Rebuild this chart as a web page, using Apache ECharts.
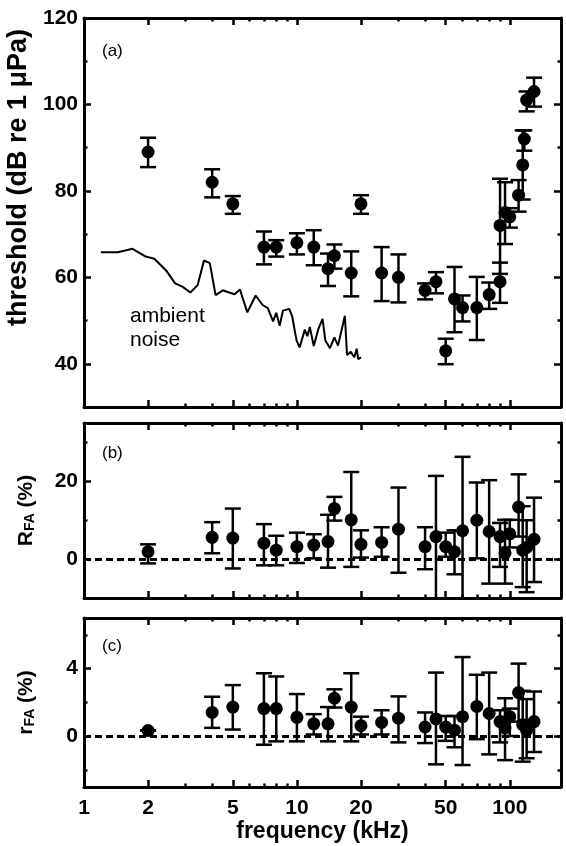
<!DOCTYPE html>
<html><head><meta charset="utf-8">
<script src="https://cdn.jsdelivr.net/npm/echarts@6/dist/echarts.min.js"></script>
<style>html,body{margin:0;padding:0;background:#fff}#c{width:566px;height:846px}</style>
</head><body><div id="c"></div>
<script>
// ---------- data ----------
const freqTickMajor = [2, 5, 10, 20, 50, 100];
const freqTickMinor = [3, 4, 6, 7, 8, 9, 30, 40, 60, 70, 80, 90];
const freqLabels = [1, 2, 5, 10, 20, 50, 100];

// panel (a) thresholds
const freqA = [2, 4, 5, 7, 8, 10, 12, 14, 15, 18, 20, 25, 30, 40, 45, 50, 55, 60, 70, 80, 90, 90, 95, 100, 110, 115, 117, 120, 130];
const thrA  = [89, 82, 77, 67, 67, 68, 67, 62, 65, 61, 77, 61, 60, 57, 59, 43, 55, 53, 53, 56, 59, 72, 75, 74, 79, 86, 92, 101, 103];
const thrHi = [92.3, 85, 78.8, 70.6, 68.6, 70.2, 70.9, 65.5, 67.6, 66, 79, 67, 65.3, 58.6, 61.2, 45.8, 62.4, 55.8, 60.1, 58.8, 63.4, 82.8, 82, 76, 82.5, 94, 94, 103, 106.2];
const thrLo = [85.5, 78.5, 74.7, 63, 64.8, 65.3, 62.8, 58, 62, 55.6, 74.7, 54.5, 54.2, 54.9, 56.3, 39.9, 47.3, 49.8, 45.5, 52.7, 54.1, 60.8, 67.7, 71.5, 75.2, 78, 89.3, 98.4, 99.5];
const yTicksA = [40, 60, 80, 100, 120];
const yMinorA = [50, 70, 90, 110];

// ambient noise curve (kHz, dB)
const noiseF  = [1.2, 1.44, 1.69, 1.95, 2.14, 2.43, 2.68, 2.91, 3.16, 3.42, 3.66, 3.9, 4.15, 4.49, 4.8, 5.1, 5.4, 5.85, 6.4, 6.9, 7.3, 7.73, 8.0, 8.3, 8.6, 9.2, 9.5, 9.96, 10.3, 10.9, 11.2, 11.5, 12.0, 12.6, 13.2, 13.6, 14.3, 15.0, 15.6, 16.2, 16.8, 17.2, 17.9, 18.6, 19.1, 19.4, 20.0];
const noiseDb = [65.8, 65.8, 66.6, 64.8, 64.3, 61.6, 58.6, 57.8, 56.5, 58.2, 63.9, 63.3, 55.9, 57.0, 56.5, 56.1, 57.2, 51.9, 55.8, 53.6, 52.9, 49.8, 51.8, 48.8, 52.3, 52.7, 51.0, 45.4, 43.8, 47.9, 46.4, 48.5, 44.1, 48.0, 50.4, 45.4, 43.6, 46.1, 44.2, 47.7, 51.1, 42.0, 42.8, 41.5, 43.5, 41.1, 41.5];

// panel (b) R_FA (%)
const freqB = [2, 4, 5, 7, 8, 10, 12, 14, 15, 18, 20, 25, 30, 40, 45, 50, 55, 60, 70, 80, 90, 95, 100, 110, 115, 120, 130];
const rfaB   = [1.9, 5.6, 5.4, 4.1, 2.3, 3.2, 3.6, 4.5, 13, 10.1, 3.8, 4.3, 7.7, 3.2, 5.8, 3.2, 1.9, 7.3, 10, 7.1, 5.8, 1.6, 6.5, 13.4, 2.3, 3.0, 5.1];
const rfaBHi = [3.8, 9.5, 13, 9, 6, 6.8, 6.4, 11.4, 16, 22.4, 7.4, 8.2, 18.4, 8.2, 21.4, 6.8, 7.4, 26.3, 19.7, 20.3, 9.3, 10.1, 10.1, 21.8, 13.6, 10, 15.8];
const rfaBLo = [-1.1, 1.5, -2.4, -1.6, -1.6, -1.0, 0.2, -2.2, 9.9, -2.0, 0.4, 0.6, -3.5, -2.6, -15, 0.6, -3.9, -15, 0.2, -6.3, -2.0, -6.3, 3, 5.8, -7.2, -8.5, -5.9];
const yTicksB = [0, 20];
const yMinorB = [10, 30];

// panel (c) r_FA (%)
const freqC = [2, 4, 5, 7, 8, 10, 12, 14, 15, 18, 20, 25, 30, 40, 45, 50, 55, 60, 70, 80, 90, 95, 100, 110, 115, 120, 130];
const rfaC   = [0.34, 1.41, 1.73, 1.64, 1.64, 1.12, 0.74, 0.74, 2.25, 1.73, 0.63, 0.82, 1.07, 0.55, 1.03, 0.55, 0.36, 1.16, 1.77, 1.35, 0.87, 0.5, 1.16, 2.59, 0.69, 0.36, 0.87];
const rfaCHi = [0.34, 2.34, 3.03, 3.73, 3.54, 2.5, 1.31, 1.73, 2.78, 3.73, 1.16, 1.54, 2.36, 1.41, 3.77, 1.2, 1.2, 4.69, 3.64, 3.77, 1.54, 2.25, 1.64, 4.3, 2.69, 2.2, 2.65];
const rfaCLo = [0.34, 0.5, 0.4, -0.5, -0.3, -0.3, 0.11, -0.3, 1.7, -0.3, 0.11, 0.11, -0.36, -0.4, -1.66, -0.27, -0.65, -1.7, -0.17, -1.07, -0.36, -1.41, 0.02, 0.87, -1.5, -1.3, -0.93];
const yTicksC = [0, 4];
const yMinorC = [-2, 2, 6];

// ---------- chart ----------
const FONT = '"Liberation Sans", Arial, Helvetica, sans-serif';
const TICK_COLOR = '#000';
const XMIN = 1, XMAX = 174;
const zip = (a, b) => a.map((v, i) => [v, b[i]]);
const zip3 = (a, b, c) => a.map((v, i) => [v, b[i], c[i]]);

const panels = [
  { top: 18, height: 389, ymin: 30, ymax: 120, major: yTicksA, minor: yMinorA,
    name: 'threshold (dB re 1 μPa)', nameGap: 47, nameSize: 27, namePad: [0, 0, 0, 70],
    xs: freqA, ys: thrA, hi: thrHi, lo: thrLo, zero: false },
  { top: 423, height: 175, ymin: -10, ymax: 35, major: yTicksB, minor: yMinorB,
    name: '{m|R}{s|FA}{m| (%)}', nameGap: 47, nameSize: 21, namePad: 0,
    xs: freqB, ys: rfaB, hi: rfaBHi, lo: rfaBLo, zero: true },
  { top: 618, height: 169, ymin: -3, ymax: 7, major: yTicksC, minor: yMinorC,
    name: '{m|r}{s|FA}{m| (%)}', nameGap: 47, nameSize: 21, namePad: 0,
    xs: freqC, ys: rfaC, hi: rfaCHi, lo: rfaCLo, zero: true }
];

const grids = [], xAxes = [], yAxes = [], series = [];

function errItem(params, api) {
  const x = api.value(0), hi = api.value(1), lo = api.value(2);
  const a = api.coord([x, hi]), b = api.coord([x, lo]);
  const w = 8, st = { stroke: '#000', lineWidth: 2.5, fill: null };
  return { type: 'group', children: [
    { type: 'line', shape: { x1: a[0], y1: a[1], x2: b[0], y2: b[1] }, style: st },
    { type: 'line', shape: { x1: a[0] - w, y1: a[1], x2: a[0] + w, y2: a[1] }, style: st },
    { type: 'line', shape: { x1: b[0] - w, y1: b[1], x2: b[0] + w, y2: b[1] }, style: st }
  ]};
}
function tick(len, vals) {
  return { show: true, inside: true, length: len, customValues: vals, lineStyle: { color: TICK_COLOR, width: 2.5 } };
}
function axisLine(on) {
  return on ? { show: true, onZero: false, lineStyle: { color: '#000', width: 3 } } : { show: false, onZero: false };
}

panels.forEach((p, pi) => {
  const last = pi === panels.length - 1;
  // four overlapping grids per panel: [bottom/left major, bottom/left minor, top/right major, top/right minor]
  const layers = [
    { xpos: 'bottom', ypos: 'left', len: 7, xt: freqTickMajor, yt: p.major, line: true, main: true },
    { xpos: 'bottom', ypos: 'left', len: 3.5, xt: freqTickMinor, yt: p.minor, line: false, main: false },
    { xpos: 'top', ypos: 'right', len: 7, xt: freqTickMajor, yt: p.major, line: true, main: false },
    { xpos: 'top', ypos: 'right', len: 3.5, xt: freqTickMinor, yt: p.minor, line: false, main: false }
  ];
  layers.forEach(L => {
    const gi = grids.length;
    grids.push({ left: 84, width: 477, top: p.top, height: p.height, show: false, outerBoundsMode: 'none' });
    const xa = { type: 'log', logBase: 10, min: XMIN, max: XMAX, gridIndex: gi, position: L.xpos,
      axisLine: axisLine(L.line), splitLine: { show: false }, minorTick: { show: false },
      axisTick: tick(L.len, L.xt), axisLabel: { show: false } };
    const ya = { type: 'value', min: p.ymin, max: p.ymax, gridIndex: gi, position: L.ypos,
      axisLine: axisLine(L.line), splitLine: { show: false }, minorTick: { show: false },
      axisTick: tick(L.len, L.yt), axisLabel: { show: false } };
    if (L.main) {
      if (last) {
        xa.axisLabel = { show: true, customValues: freqLabels, fontSize: 21, fontWeight: 'bold', color: '#000', fontFamily: FONT, margin: 11 };
        xa.name = 'frequency (kHz)'; xa.nameLocation = 'middle'; xa.nameGap = 30;
        xa.nameTextStyle = { fontSize: 23, fontWeight: 'bold', color: '#000', fontFamily: FONT };
      }
      ya.axisLabel = { show: true, customValues: p.major, fontSize: 21, fontWeight: 'bold', color: '#000', fontFamily: FONT, margin: 6 };
      ya.name = p.name; ya.nameLocation = 'middle'; ya.nameRotate = 90; ya.nameGap = p.nameGap;
      ya.nameTextStyle = { fontSize: p.nameSize, fontWeight: 'bold', color: '#000', fontFamily: FONT, padding: p.namePad,
        rich: {
          m: { fontSize: 21, fontWeight: 'bold', color: '#000', fontFamily: FONT, lineHeight: 22 },
          s: { fontSize: 14, fontWeight: 'bold', color: '#000', fontFamily: FONT, lineHeight: 10, verticalAlign: 'bottom' }
        } };
    }
    xAxes.push(xa); yAxes.push(ya);
  });

  const ai = pi * 4;
  series.push({ type: 'custom', xAxisIndex: ai, yAxisIndex: ai, renderItem: errItem, clip: true,
    encode: { x: 0, y: [1, 2] }, data: zip3(p.xs, p.hi, p.lo), z: 2, silent: true });
  const sc = { type: 'scatter', xAxisIndex: ai, yAxisIndex: ai, data: zip(p.xs, p.ys),
    symbol: 'circle', symbolSize: 13, itemStyle: { color: '#000', opacity: 1 }, z: 3, silent: true };
  if (p.zero) {
    sc.markLine = { silent: true, symbol: ['none', 'none'], label: { show: false },
      lineStyle: { color: '#000', width: 3, type: [7, 4] }, data: [{ yAxis: 0 }] };
  }
  series.push(sc);
  if (pi === 0) {
    series.push({ type: 'line', xAxisIndex: ai, yAxisIndex: ai, data: zip(noiseF, noiseDb),
      symbol: 'none', lineStyle: { color: '#000', width: 2 }, z: 2, silent: true });
  }
});

const chart = echarts.init(document.getElementById('c'), null, { renderer: 'canvas' });
chart.setOption({
  animation: false,
  backgroundColor: '#fff',
  grid: grids, xAxis: xAxes, yAxis: yAxes, series: series,
  graphic: [
    { type: 'text', left: 102, top: 43, style: { text: '(a)', font: '17px ' + FONT, fill: '#000' } },
    { type: 'text', left: 102, top: 445, style: { text: '(b)', font: '17px ' + FONT, fill: '#000' } },
    { type: 'text', left: 102, top: 638, style: { text: '(c)', font: '17px ' + FONT, fill: '#000' } },
    { type: 'text', left: 130, top: 304, style: { text: 'ambient\nnoise', font: '21px ' + FONT, fill: '#000', lineHeight: 24 } }
  ]
});
</script></body></html>
